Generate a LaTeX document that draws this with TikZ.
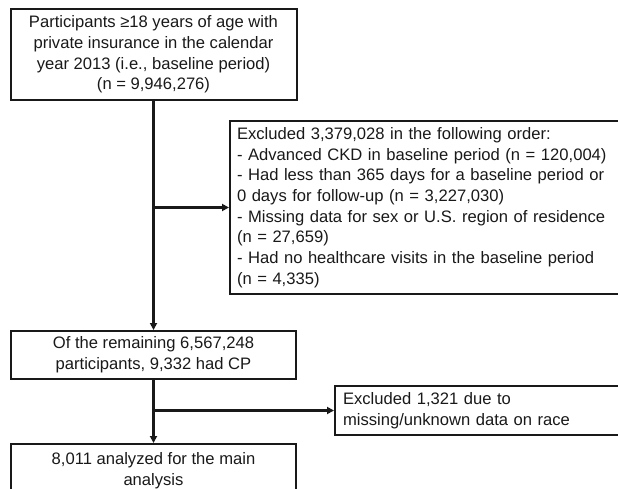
\documentclass[tikz,border=0pt]{standalone}
\usepackage{fontspec}
\setmainfont{Liberation Sans}
\usetikzlibrary{arrows.meta}
\begin{document}
\begin{tikzpicture}[x=1pt,y=-1pt,
  box/.style={draw=black!90,line width=2pt,rectangle,inner sep=0pt,
    font=\fontsize{16.6}{20.7}\selectfont,text=black!90},
  conn/.style={line width=2.4pt,draw=black!90,-{Triangle[length=7pt,width=7pt]}}]
\useasboundingbox (0,0) rectangle (618,489);
\node[box,minimum width=286pt,minimum height=91pt,align=center] (b1) at (153.5,54.5)
  {Participants ≥18 years of age with\\private insurance in the calendar\\year 2013 (i.e., baseline period)\\(n = 9,946,276)};
\node[box,minimum width=390pt,minimum height=172pt,text width=376pt,inner xsep=7pt,align=left] (b2) at (425,207.5)
  {Excluded 3,379,028 in the following order:\\- Advanced CKD in baseline period (n = 120,004)\\- Had less than 365 days for a baseline period or\\0 days for follow-up (n = 3,227,030)\\- Missing data for sex or U.S. region of residence\\(n = 27,659)\\- Had no healthcare visits in the baseline period\\(n = 4,335)};
\node[box,minimum width=285pt,minimum height=48pt,align=center] (b3) at (153.5,355)
  {Of the remaining 6,567,248\\participants, 9,332 had CP};
\node[box,minimum width=285pt,minimum height=53pt,align=center] (b4) at (153.5,470.5)
  {8,011 analyzed for the main\\analysis};
\node[box,minimum width=285pt,minimum height=49pt,text width=269pt,inner xsep=8pt,align=left] (b5) at (477.5,410.5)
  {Excluded 1,321 due to\\missing/unknown data on race};
\coordinate (j1) at (153.5,207.5);
\coordinate (j2) at (153.5,410.5);
\draw[conn] (b1.south) -- (b3.north);
\draw[conn] (j1) -- (b2.west);
\draw[conn] (b3.south) -- (b4.north);
\draw[conn] (j2) -- (b5.west);
\end{tikzpicture}
\end{document}
